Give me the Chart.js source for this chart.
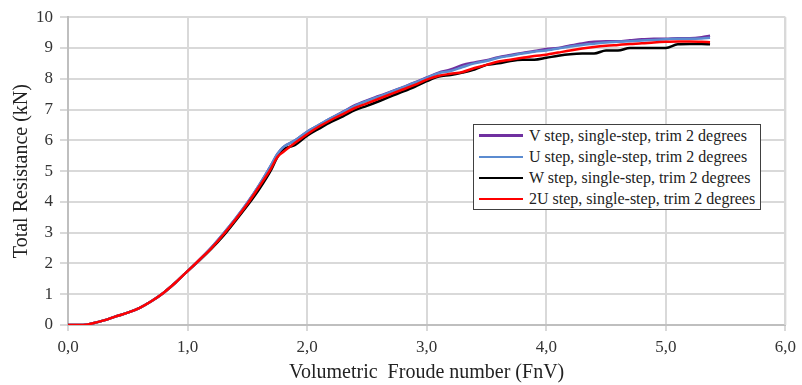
<!DOCTYPE html>
<html>
<head>
<meta charset="utf-8">
<script src="https://cdn.jsdelivr.net/npm/chart.js@4.4.0/dist/chart.umd.min.js"></script>
<style>
  html, body { margin: 0; padding: 0; background: #fff; }
  #wrap { position: relative; width: 802px; height: 385px; }
  #legend {
    position: absolute; left: 473px; top: 124px; width: 288px; height: 86px;
    border: 1px solid #404040; background: #fff; box-sizing: border-box;
    font-family: 'Liberation Serif'; font-size: 16px; color: #222;
    padding: 0 0 0 5px;
  }
  .row { height: 21.2px; display: flex; align-items: center; white-space: nowrap; }
  .swatch { width: 44px; height: 2.5px; margin-right: 6px; }
</style>
</head>
<body>
<div id="wrap">
  <canvas id="myChart" width="802" height="385"></canvas>
  <div id="legend"></div>
</div>
<script>
var froude = [0.0, 0.1, 0.15, 0.2, 0.3, 0.4, 0.5, 0.6, 0.7, 0.8, 0.9,
              1.0, 1.1, 1.2, 1.3, 1.4, 1.5, 1.6, 1.7, 1.75, 1.8, 1.9,
              2.0, 2.1, 2.2, 2.3, 2.4, 2.5, 2.6, 2.7, 2.8, 2.9,
              3.0, 3.1, 3.2, 3.3, 3.4, 3.5, 3.6, 3.7, 3.8, 3.9,
              4.0, 4.1, 4.2, 4.3, 4.4, 4.5, 4.6, 4.7, 4.8, 4.9,
              5.0, 5.1, 5.2, 5.3, 5.37];

var vStep  = [0, 0, 0.01, 0.05, 0.15, 0.28, 0.40, 0.56, 0.78, 1.05, 1.38,
              1.75, 2.12, 2.52, 2.97, 3.45, 3.97, 4.55, 5.20, 5.55, 5.78, 6.00,
              6.28, 6.50, 6.72, 6.93, 7.14, 7.30, 7.44, 7.58, 7.73, 7.88,
              8.04, 8.20, 8.30, 8.45, 8.53, 8.60, 8.70, 8.77, 8.84, 8.90,
              8.97, 9.00, 9.08, 9.15, 9.20, 9.22, 9.22, 9.25, 9.28, 9.30,
              9.30, 9.32, 9.32, 9.35, 9.40];

var uStep  = [0, 0, 0.01, 0.05, 0.15, 0.28, 0.40, 0.56, 0.78, 1.05, 1.38,
              1.75, 2.12, 2.52, 2.97, 3.45, 3.97, 4.55, 5.20, 5.55, 5.78, 6.00,
              6.28, 6.50, 6.72, 6.92, 7.12, 7.28, 7.42, 7.57, 7.72, 7.87,
              8.03, 8.18, 8.25, 8.38, 8.50, 8.58, 8.68, 8.75, 8.82, 8.88,
              8.92, 8.98, 9.05, 9.10, 9.14, 9.18, 9.20, 9.22, 9.24, 9.26,
              9.28, 9.30, 9.30, 9.31, 9.33];

var wStep  = [0, 0, 0.01, 0.05, 0.15, 0.28, 0.40, 0.56, 0.78, 1.05, 1.38,
              1.75, 2.10, 2.48, 2.90, 3.38, 3.88, 4.42, 5.05, 5.45, 5.70, 5.85,
              6.15, 6.38, 6.60, 6.78, 6.98, 7.12, 7.27, 7.43, 7.58, 7.74,
              7.92, 8.07, 8.12, 8.20, 8.30, 8.45, 8.50, 8.58, 8.62, 8.62,
              8.68, 8.75, 8.80, 8.82, 8.82, 8.92, 8.92, 9.00, 9.00, 9.00,
              9.00, 9.12, 9.13, 9.13, 9.12];

var u2Step = [0, 0, 0.01, 0.05, 0.15, 0.28, 0.40, 0.56, 0.78, 1.05, 1.38,
              1.75, 2.12, 2.50, 2.94, 3.42, 3.93, 4.50, 5.10, 5.45, 5.62, 5.92,
              6.20, 6.45, 6.66, 6.85, 7.05, 7.20, 7.35, 7.50, 7.65, 7.80,
              7.97, 8.10, 8.16, 8.22, 8.35, 8.45, 8.56, 8.62, 8.68, 8.74,
              8.78, 8.85, 8.92, 8.98, 9.03, 9.07, 9.10, 9.13, 9.15, 9.18,
              9.20, 9.21, 9.21, 9.20, 9.19];

var seriesNames = ["V step, single-step, trim 2 degrees",
                   "U step, single-step, trim 2 degrees",
                   "W step, single-step, trim 2 degrees",
                   "2U step, single-step, trim 2 degrees"];
var seriesColors = ["#7030a0", "#5b8bd0", "#000000", "#ff0000"];
var seriesValues = [vStep, uStep, wStep, u2Step];
var drawOrder = [2, 1, 3, 0];

var xTicks = [0, 1, 2, 3, 4, 5, 6];

function toPoints(vals) {
  return vals.map(function (v, i) { return { x: froude[i], y: v }; });
}

var datasets = seriesValues.map(function (vals, i) {
  return {
    label: seriesNames[i],
    data: toPoints(vals),
    borderColor: seriesColors[i],
    backgroundColor: seriesColors[i],
    borderWidth: 2.5,
    pointRadius: 0,
    cubicInterpolationMode: 'monotone',
    order: drawOrder[i]
  };
});

var serif = "'Liberation Serif'";

var ctx = document.getElementById("myChart");
var myChart = new Chart(ctx, {
  type: 'line',
  data: { datasets: datasets },
  options: {
    responsive: false,
    animation: false,
    layout: { padding: { left: 10, right: 15, top: 16, bottom: 0 } },
    plugins: { legend: { display: false }, tooltip: { enabled: false } },
    scales: {
      x: {
        type: 'linear',
        min: 0, max: 6,
        afterBuildTicks: function (scale) {
          scale.ticks = xTicks.map(function (v) { return { value: v }; });
        },
        afterFit: function (scale) { scale.height = 60; },
        ticks: {
          color: '#333',
          font: { family: serif, size: 17 },
          padding: 6,
          callback: function (v) { return v.toFixed(1).replace('.', ','); }
        },
        grid: { color: '#d9d9d9', lineWidth: 2, tickLength: 6 },
        border: { color: '#bfbfbf', width: 2 },
        title: {
          display: true,
          text: 'Volumetric  Froude number (FnV)',
          color: '#222',
          font: { family: serif, size: 20 },
          padding: { top: 0, bottom: 0 }
        }
      },
      y: {
        min: 0, max: 10,
        afterFit: function (scale) { scale.width = 58; },
        ticks: {
          stepSize: 1,
          color: '#333',
          font: { family: serif, size: 17 },
          padding: 7
        },
        grid: { color: '#d9d9d9', lineWidth: 2, tickLength: 8 },
        border: { color: '#bfbfbf', width: 2 },
        title: {
          display: true,
          text: 'Total Resistance (kN)',
          color: '#222',
          font: { family: serif, size: 20 },
          padding: { top: 0, bottom: 0 }
        }
      }
    }
  },
  plugins: [{
    id: 'rightBorder',
    afterDraw: function (chart) {
      var a = chart.chartArea, c = chart.ctx;
      c.save();
      c.strokeStyle = '#d9d9d9';
      c.lineWidth = 2;
      c.beginPath();
      c.moveTo(a.right, a.top);
      c.lineTo(a.right, a.bottom);
      c.stroke();
      c.restore();
    }
  }]
});

var legend = document.getElementById('legend');
seriesNames.forEach(function (name, i) {
  var row = document.createElement('div');
  row.className = 'row';
  var sw = document.createElement('span');
  sw.className = 'swatch';
  sw.style.background = seriesColors[i];
  var tx = document.createElement('span');
  tx.textContent = name;
  row.appendChild(sw);
  row.appendChild(tx);
  legend.appendChild(row);
});
</script>
</body>
</html>
